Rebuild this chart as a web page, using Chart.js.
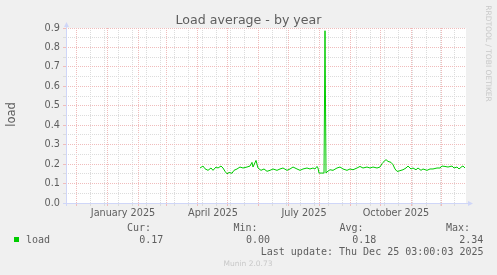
<!DOCTYPE html>
<html>
<head>
<meta charset="utf-8">
<title>Load average - by year</title>
<script src="https://cdn.jsdelivr.net/npm/chart.js@4"></script>
<style>
  html, body { margin: 0; padding: 0; background: #F0F0F0; }
  canvas { display: block; }
</style>
</head>
<body>
<canvas id="loadChart" width="497" height="275"></canvas>
<script>
// x values are days counted from 2024-12-01, graph covers 400 days up to 2025-12-25
const loadDays = [
  124, 127, 129, 132, 135, 137, 140, 142, 145, 147, 149, 151, 153, 156, 158, 161,
  164, 167, 171, 174, 176, 177, 180, 182, 185, 188, 191, 194, 197, 201, 204, 207,
  211, 214, 217, 221, 224, 227, 231, 234, 237, 239, 241, 242, 243, 247, 248, 249,
  250, 251, 254, 257, 261, 264, 267, 271, 274, 277, 281, 284, 287, 291, 294, 297,
  301, 304, 306, 307, 310, 312, 315, 317, 319, 321, 322, 325, 327, 330, 332, 335,
  337, 340, 342, 345, 347, 351, 354, 357, 361, 364, 366, 369, 372, 376, 378, 381,
  383, 386, 387, 389
];
const loadValues = [
  0.180, 0.190, 0.176, 0.168, 0.180, 0.168, 0.185, 0.180, 0.190, 0.180, 0.163, 0.150, 0.157, 0.153, 0.168, 0.175,
  0.185, 0.180, 0.185, 0.190, 0.209, 0.185, 0.219, 0.180, 0.168, 0.175, 0.163, 0.168, 0.175, 0.168, 0.175, 0.180,
  0.168, 0.175, 0.185, 0.175, 0.168, 0.175, 0.180, 0.175, 0.180, 0.175, 0.188, 0.180, 0.154, 0.154, 0.154, 0.886,
  0.154, 0.160, 0.171, 0.168, 0.180, 0.185, 0.175, 0.168, 0.175, 0.171, 0.180, 0.188, 0.180, 0.185, 0.180, 0.185,
  0.180, 0.185, 0.202, 0.209, 0.223, 0.214, 0.209, 0.197, 0.175, 0.163, 0.163, 0.168, 0.171, 0.180, 0.190, 0.175,
  0.180, 0.171, 0.180, 0.168, 0.175, 0.168, 0.175, 0.175, 0.180, 0.180, 0.190, 0.188, 0.185, 0.190, 0.180, 0.185,
  0.175, 0.188, 0.190, 0.180
];

const xLabels = ['January 2025', 'April 2025', 'July 2025', 'October 2025'];
const xLabelDates = ['2025-01-17', '2025-04-17', '2025-07-17', '2025-10-17'];
const yTicks = [0, 0.05, 0.1, 0.15, 0.2, 0.25, 0.3, 0.35, 0.4, 0.45, 0.5, 0.55, 0.6, 0.65, 0.7, 0.75, 0.8, 0.85, 0.9];
const legendHeads = ['Cur:', 'Min:', 'Avg:', 'Max:'];
const legendValues = ['0.17', '0.00', '0.18', '2.34'];
const lastUpdate = 'Last update: Thu Dec 25 03:00:03 2025';

const ORIGIN = Date.UTC(2024, 11, 1);
const toDay = (iso) => (Date.parse(iso + 'T00:00:00Z') - ORIGIN) / 86400000;

// red lines on the first of every month, grey ones every second week
const monthDays = [];
for (let i = 0; i <= 12; i++) monthDays.push((Date.UTC(2024, 11 + i, 1) - ORIGIN) / 86400000);
const gridTicks = monthDays.map(d => ({ value: d, month: true }));
for (let d = 0; d <= 390; d += 14) {
  if (!monthDays.includes(d)) gridTicks.push({ value: d, month: false });
}
gridTicks.sort((a, b) => a.value - b.value);

const MGRID = '#F0BCBC';
const GRID = '#DCDCDC';
const AXIS = '#CFD6F8';
const FONT = '#5E5E5E';

Chart.defaults.font.family = '"DejaVu Sans", sans-serif';

const muninDecor = {
  id: 'muninDecor',
  beforeDraw(chart) {
    const { ctx, chartArea: a } = chart;
    ctx.save();
    ctx.fillStyle = '#F0F0F0';
    ctx.fillRect(0, 0, chart.width, chart.height);
    ctx.fillStyle = '#FFFFFF';
    ctx.fillRect(a.left, a.top, a.right - a.left, a.bottom - a.top);
    ctx.restore();
  },
  afterDraw(chart) {
    const { ctx, chartArea: a } = chart;
    const xs = chart.scales.x;
    ctx.save();

    // axis lines + arrows
    ctx.strokeStyle = AXIS;
    ctx.fillStyle = AXIS;
    ctx.lineWidth = 1;
    ctx.beginPath();
    ctx.moveTo(a.left + 0.5, a.bottom + 3);
    ctx.lineTo(a.left + 0.5, a.top - 2);
    ctx.moveTo(a.left - 3, a.bottom + 0.5);
    ctx.lineTo(a.right + 2, a.bottom + 0.5);
    ctx.stroke();
    ctx.beginPath();
    ctx.moveTo(a.left - 2, a.top - 1);
    ctx.lineTo(a.left + 3, a.top - 1);
    ctx.lineTo(a.left + 0.5, a.top - 6);
    ctx.closePath();
    ctx.fill();
    ctx.beginPath();
    ctx.moveTo(a.right + 2, a.bottom - 2);
    ctx.lineTo(a.right + 2, a.bottom + 3);
    ctx.lineTo(a.right + 7, a.bottom + 0.5);
    ctx.closePath();
    ctx.fill();

    // x labels, centred in the month
    ctx.fillStyle = FONT;
    ctx.font = '9.7px "DejaVu Sans"';
    ctx.textAlign = 'center';
    ctx.textBaseline = 'alphabetic';
    xLabels.forEach((lbl, i) => {
      ctx.fillText(lbl, xs.getPixelForValue(toDay(xLabelDates[i])), 216);
    });

    // title
    ctx.font = '12.6px "DejaVu Sans"';
    ctx.fillText('Load average - by year', 248.5, 24);

    // y title
    ctx.save();
    ctx.font = '11.5px "DejaVu Sans"';
    ctx.translate(14.5, (a.top + a.bottom) / 2 - 1);
    ctx.rotate(-Math.PI / 2);
    ctx.fillText('load', 0, 0);
    ctx.restore();

    // watermark
    ctx.save();
    ctx.fillStyle = '#C8C8C8';
    ctx.font = '7.5px "DejaVu Sans"';
    ctx.translate(485.5, 53.5);
    ctx.rotate(Math.PI / 2);
    ctx.fillText('RRDTOOL / TOBI OETIKER', 0, 0);
    ctx.restore();

    // legend
    ctx.fillStyle = '#00CC00';
    ctx.fillRect(14, 237, 5, 5);
    ctx.fillStyle = FONT;
    ctx.font = '10px "DejaVu Sans Mono"';
    ctx.textAlign = 'left';
    ctx.fillText('load', 26, 243);
    const headX = [127, 233.5, 339.5, 446];
    legendHeads.forEach((h, i) => ctx.fillText(h, headX[i], 231));
    const valRight = [163.3, 270, 376.3, 483.3];
    ctx.textAlign = 'right';
    legendValues.forEach((v, i) => ctx.fillText(v, valRight[i], 243));
    ctx.fillText(lastUpdate, 483.5, 255);

    ctx.textAlign = 'center';
    ctx.fillStyle = '#C8C8C8';
    ctx.font = '7.5px "DejaVu Sans"';
    ctx.fillText('Munin 2.0.73', 248, 266);
    ctx.restore();
  }
};

new Chart(document.getElementById('loadChart'), {
  type: 'line',
  data: {
    datasets: [{
      label: 'load',
      data: loadDays.map((d, i) => ({ x: d, y: loadValues[i] })),
      borderColor: '#00CC00',
      borderWidth: 1,
      pointRadius: 0,
      tension: 0,
      fill: false
    }]
  },
  options: {
    responsive: false,
    animation: false,
    devicePixelRatio: 1,
    layout: { padding: { top: 28, right: 31, left: 0, bottom: 0 } },
    scales: {
      x: {
        type: 'linear',
        min: -10,
        max: 390,
        afterBuildTicks(scale) {
          scale.ticks = gridTicks.map(t => ({ value: t.value, month: t.month }));
        },
        afterFit(scale) { scale.height = 72; },
        ticks: { display: false, autoSkip: false },
        grid: {
          color: ctx => (ctx.tick && ctx.tick.month ? MGRID : GRID),
          tickColor: ctx => (ctx.tick && ctx.tick.month ? MGRID : GRID),
          tickLength: 3,
          lineWidth: 1
        },
        border: { display: false, dash: [1, 1] }
      },
      y: {
        type: 'linear',
        min: 0,
        max: 0.9,
        afterBuildTicks(scale) {
          scale.ticks = yTicks.map(v => ({ value: v }));
        },
        afterFit(scale) { scale.width = 66; },
        ticks: {
          autoSkip: false,
          padding: 3,
          color: FONT,
          font: { size: 9.7 },
          callback: (v, i) => (i % 2 === 0 ? v.toFixed(1) : '')
        },
        grid: {
          color: ctx => (ctx.index % 2 === 0 ? MGRID : GRID),
          tickColor: ctx => (ctx.index % 2 === 0 ? MGRID : GRID),
          tickLength: 3,
          lineWidth: 1
        },
        border: { display: false, dash: [1, 1] }
      }
    },
    plugins: {
      legend: { display: false },
      tooltip: { enabled: false }
    }
  },
  plugins: [muninDecor]
});
</script>
</body>
</html>
